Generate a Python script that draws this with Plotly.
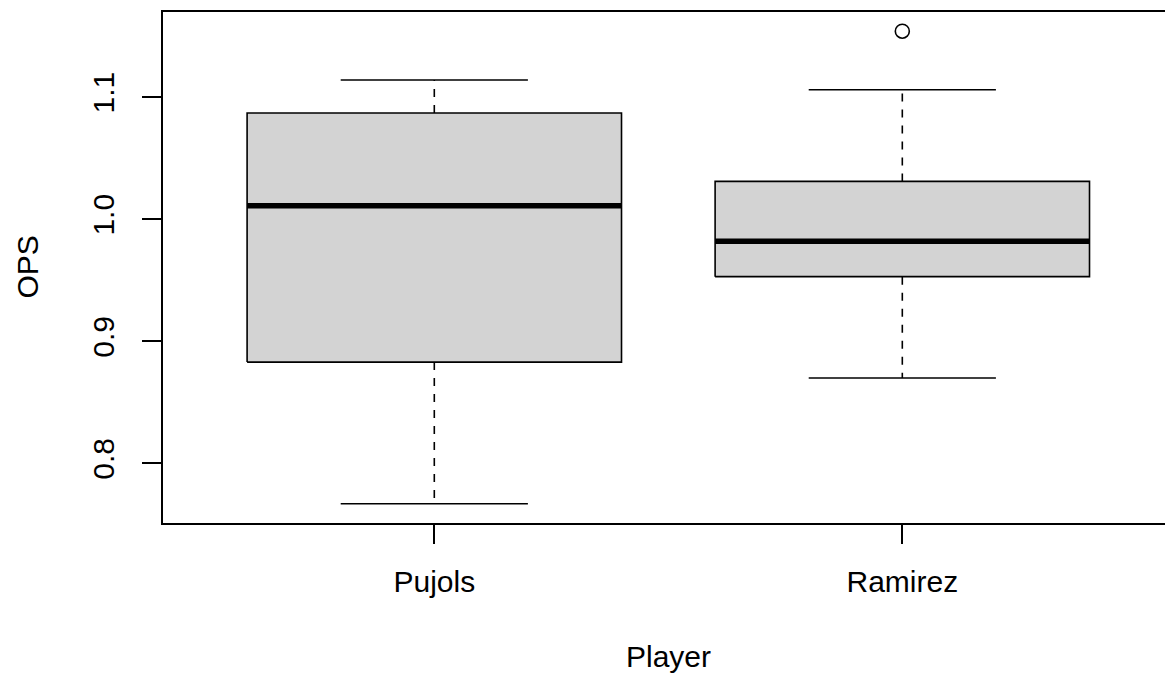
import plotly.graph_objects as go

# OPS summary per player (five-number summary plus outliers)
players = ["Pujols", "Ramirez"]
lower_whisker = [0.767, 0.870]
q1 = [0.883, 0.953]
median = [1.011, 0.982]
q3 = [1.087, 1.031]
upper_whisker = [1.114, 1.106]
outliers = [[], [1.154]]

y_ticks = [0.8, 0.9, 1.0, 1.1]

BOX_HALF = 0.4
CAP_HALF = 0.2
FONT = "Liberation Sans, Arial, sans-serif"
FS = 30

fig = go.Figure()

for i, name in enumerate(players):
    x0 = i + 1
    # dashed whiskers
    for a, b in ((q3[i], upper_whisker[i]), (q1[i], lower_whisker[i])):
        fig.add_trace(go.Scatter(
            x=[x0, x0], y=[a, b], mode="lines",
            line=dict(color="black", width=1.6, dash="8px,8px"),
            hoverinfo="skip", showlegend=False))
    # whisker caps
    for v in (upper_whisker[i], lower_whisker[i]):
        fig.add_trace(go.Scatter(
            x=[x0 - CAP_HALF, x0 + CAP_HALF], y=[v, v], mode="lines",
            line=dict(color="black", width=1.6),
            hoverinfo="skip", showlegend=False))
    # box
    fig.add_trace(go.Scatter(
        x=[x0 - BOX_HALF, x0 + BOX_HALF, x0 + BOX_HALF, x0 - BOX_HALF, x0 - BOX_HALF],
        y=[q1[i], q1[i], q3[i], q3[i], q1[i]],
        mode="lines", fill="toself", fillcolor="#d3d3d3",
        line=dict(color="black", width=1.6),
        hoverinfo="skip", showlegend=False))
    # median
    fig.add_trace(go.Scatter(
        x=[x0 - BOX_HALF, x0 + BOX_HALF], y=[median[i], median[i]], mode="lines",
        line=dict(color="black", width=5.5),
        hoverinfo="skip", showlegend=False))
    # outliers
    if outliers[i]:
        fig.add_trace(go.Scatter(
            x=[x0] * len(outliers[i]), y=outliers[i], mode="markers",
            marker=dict(symbol="circle-open", size=14, color="black",
                        line=dict(width=1.6, color="black")),
            hoverinfo="skip", showlegend=False))

fig.update_layout(
    width=1165, height=677, autosize=False,
    margin=dict(l=163, r=0, t=12, b=154),
    plot_bgcolor="white", paper_bgcolor="white",
    font=dict(family=FONT, size=FS, color="black"),
    xaxis=dict(
        range=[0.4203, 2.5613], showgrid=False, zeroline=False,
        showline=True, mirror=True, linecolor="black", linewidth=1.6,
        tickmode="array", tickvals=[1, 2], ticktext=players,
        ticks="outside", ticklen=19, tickwidth=1.6, tickcolor="black",
        ticklabelstandoff=12,
        tickfont=dict(family=FONT, size=FS, color="black"),
    ),
    yaxis=dict(
        range=[0.75121, 1.16974], showgrid=False, zeroline=False,
        showline=True, mirror=False, linecolor="black", linewidth=1.6,
        tickmode="array", tickvals=y_ticks,
        ticktext=[f"{v:.1f}" for v in y_ticks],
        ticks="outside", ticklen=19, tickwidth=1.6, tickcolor="black",
        tickangle=-90, ticklabelstandoff=16,
        tickfont=dict(family=FONT, size=FS, color="black"),
    ),
    annotations=[
        dict(text="Player", x=1.5, xref="x", y=-0.298, yref="paper",
             xanchor="center", yanchor="bottom", showarrow=False,
             font=dict(family=FONT, size=FS, color="black")),
        dict(text="OPS", x=-0.1357, xref="paper", y=0.5, yref="paper",
             xanchor="center", yanchor="middle",
             textangle=-90, showarrow=False,
             font=dict(family=FONT, size=FS, color="black")),
    ],
)

fig.write_html("out.html")
